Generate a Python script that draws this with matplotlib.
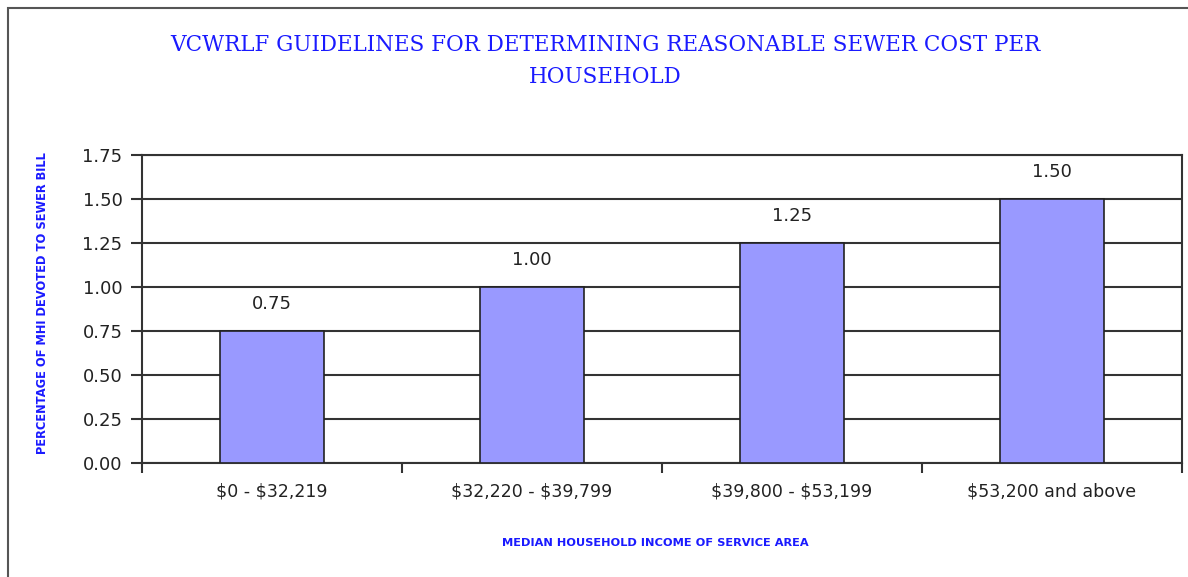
import matplotlib
matplotlib.use('Agg')
import matplotlib.pyplot as plt
from matplotlib.patches import Rectangle

plt.rcParams['text.parse_math'] = False

# Data
categories = ['$0 - $32,219', '$32,220 - $39,799', '$39,800 - $53,199', '$53,200 and above']
values = [0.75, 1.00, 1.25, 1.50]
yticks = [0.00, 0.25, 0.50, 0.75, 1.00, 1.25, 1.50, 1.75]

W, H = 1188, 577
fig = plt.figure(figsize=(W / 100, H / 100), dpi=100)
fig.patch.set_facecolor('white')

# outer chart border (right / bottom edges are cut off in the reference)
fig.patches.append(Rectangle((8 / W, -0.1), 1.2, 1 - 8 / H + 0.1, transform=fig.transFigure,
                             fill=False, edgecolor='#555555', linewidth=1.5))

ax = fig.add_axes([142 / W, 1 - 463 / H, (1182 - 142) / W, (463 - 155) / H])
x = range(len(categories))
ax.bar(x, values, width=0.4, color='#9999FF', edgecolor='#222222', linewidth=1.2, zorder=3)

ax.set_xlim(-0.5, len(categories) - 0.5)
ax.set_ylim(0, 1.75)
ax.set_yticks(yticks)
ax.set_yticklabels(['%.2f' % v for v in yticks], fontsize=13, family='DejaVu Sans', color='#222222')
ax.yaxis.grid(True, color='#333333', linewidth=1.5, zorder=0)

# category labels centered, ticks at category boundaries
ax.set_xticks(list(x))
ax.set_xticklabels(categories, fontsize=12.5, family='DejaVu Sans', color='#222222')
ax.tick_params(axis='x', length=0, pad=14)
ax.set_xticks([i - 0.5 for i in range(len(categories) + 1)], minor=True)
ax.tick_params(axis='x', which='minor', length=7, width=1.5, color='#333333', direction='out')
ax.tick_params(axis='y', length=8, width=1.5, color='#333333', direction='out', pad=6)

for side in ['left', 'right', 'top', 'bottom']:
    ax.spines[side].set_color('#333333')
    ax.spines[side].set_linewidth(1.5)

for i, v in enumerate(values):
    ax.text(i, v + 0.1, '%.2f' % v, ha='center', va='bottom', fontsize=13,
            family='DejaVu Sans', color='#222222')

fig.text(605 / W, 1 - 45 / H, 'VCWRLF GUIDELINES FOR DETERMINING REASONABLE SEWER COST PER',
         ha='center', va='center', fontsize=15.5, family='DejaVu Serif', color='#1a1aff')
fig.text(605 / W, 1 - 77 / H, 'HOUSEHOLD',
         ha='center', va='center', fontsize=15.5, family='DejaVu Serif', color='#1a1aff')

fig.text(43 / W, 1 - 303 / H, 'PERCENTAGE OF MHI DEVOTED TO SEWER BILL', rotation=90,
         ha='center', va='center', fontsize=8.3, fontweight='bold', family='DejaVu Sans', color='#1a1aff')
fig.text(655 / W, 1 - 543 / H, 'MEDIAN HOUSEHOLD INCOME OF SERVICE AREA',
         ha='center', va='center', fontsize=8.2, fontweight='bold', family='DejaVu Sans', color='#1a1aff')

plt.savefig('out.png', dpi=100)
